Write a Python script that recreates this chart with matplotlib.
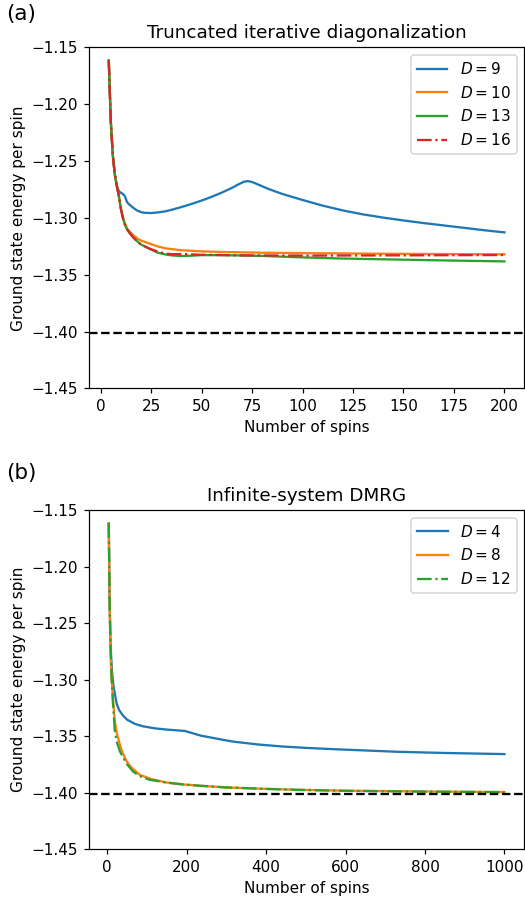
import numpy as np
import matplotlib.pyplot as plt

E_EXACT = -1.401484

# (a) truncated iterative diagonalization
n_d9 = [4, 5, 6, 7, 8, 9, 10, 11, 12, 13, 14, 16, 18, 20, 22, 25, 28, 32, 36, 40,
        45, 50, 55, 60, 65, 68, 71, 73, 75, 78, 83, 90, 100, 110, 120, 130, 140,
        150, 160, 170, 180, 190, 200]
e_d9 = [-1.1617, -1.215, -1.245, -1.262, -1.272, -1.2765, -1.278, -1.279, -1.281,
        -1.286, -1.288, -1.291, -1.2935, -1.295, -1.2956, -1.2958, -1.2953, -1.2943,
        -1.2925, -1.2905, -1.2878, -1.2848, -1.2815, -1.2778, -1.2737, -1.2708,
        -1.2682, -1.2677, -1.2685, -1.2707, -1.2745, -1.279, -1.2843, -1.2893,
        -1.2935, -1.297, -1.2998, -1.3023, -1.3046, -1.3067, -1.3088, -1.3109,
        -1.3128]

n_d10 = [4, 5, 6, 7, 8, 9, 10, 11, 12, 13, 14, 16, 18, 20, 24, 28, 32, 40, 50, 60,
         80, 100, 120, 150, 200]
e_d10 = [-1.1617, -1.215, -1.245, -1.262, -1.272, -1.281, -1.292, -1.300, -1.305,
         -1.309, -1.3115, -1.315, -1.318, -1.320, -1.3225, -1.325, -1.3268, -1.3285,
         -1.3295, -1.330, -1.3307, -1.331, -1.3313, -1.3317, -1.3321]

n_d13 = [4, 5, 6, 7, 8, 9, 10, 11, 12, 13, 14, 16, 18, 20, 24, 28, 32, 36, 40, 45,
         50, 60, 80, 100, 120, 150, 175, 200]
e_d13 = [-1.1617, -1.215, -1.245, -1.262, -1.272, -1.281, -1.292, -1.300, -1.306,
         -1.310, -1.3125, -1.317, -1.3205, -1.3235, -1.327, -1.3305, -1.3322, -1.3332,
         -1.3336, -1.3333, -1.3328, -1.3328, -1.3335, -1.3348, -1.3358, -1.3368,
         -1.3376, -1.3383]

n_d16 = [4, 5, 6, 7, 8, 9, 10, 11, 12, 13, 14, 16, 18, 20, 24, 28, 32, 36, 40, 50,
         70, 100, 150, 200]
e_d16 = [-1.1617, -1.215, -1.245, -1.262, -1.272, -1.281, -1.292, -1.300, -1.306,
         -1.310, -1.3125, -1.317, -1.3205, -1.3235, -1.327, -1.3295, -1.3315, -1.332,
         -1.3318, -1.3325, -1.333, -1.3332, -1.333, -1.3327]

# (b) infinite-system DMRG
n_d4 = [4, 6, 8, 10, 12, 14, 16, 20, 24, 30, 40, 50, 70, 90, 120, 150, 180, 195,
        210, 235, 283, 316, 380, 442, 500, 567, 650, 735, 850, 1000]
e_d4 = [-1.1617, -1.2284, -1.262, -1.280, -1.292, -1.300, -1.306, -1.314, -1.3215,
        -1.327, -1.332, -1.3355, -1.3393, -1.3414, -1.3432, -1.3443, -1.3451,
        -1.3455, -1.347, -1.3496, -1.3528, -1.3549, -1.3575, -1.3593, -1.3605,
        -1.3616, -1.3628, -1.364, -1.365, -1.366]

n_d8 = [4, 6, 8, 10, 12, 14, 16, 19, 24, 32, 40, 49, 60, 82, 110, 149, 190, 233,
        300, 400, 484, 600, 800, 1000]
e_d8 = [-1.1617, -1.2284, -1.2656, -1.2895, -1.303, -1.314, -1.323, -1.3365, -1.347,
        -1.3578, -1.366, -1.3725, -1.3775, -1.3843, -1.388, -1.3911, -1.3928, -1.394,
        -1.3955, -1.3968, -1.3976, -1.3984, -1.3991, -1.3996]

n_d12 = [4, 6, 8, 10, 12, 14, 16, 19, 24, 32, 40, 50, 65, 82, 107, 150, 190, 233,
         300, 400, 484, 600, 800, 1000]
e_d12 = [-1.1617, -1.2284, -1.2656, -1.2895, -1.305, -1.318, -1.328, -1.345, -1.355,
         -1.3635, -1.369, -1.375, -1.3814, -1.3855, -1.3887, -1.3913, -1.3928, -1.394,
         -1.3955, -1.3968, -1.3977, -1.3985, -1.3992, -1.3997]

yticks = np.arange(-1.45, -1.149, 0.05)

# drawn at 110 dpi so text and lines come out a bit bigger, like the original
fig = plt.figure(figsize=(525 / 110, 897 / 110), dpi=110)
ax1 = fig.add_axes([0.1695, 0.567, 0.829, 0.3803])
ax2 = fig.add_axes([0.1695, 0.0535, 0.829, 0.3779])

ax1.plot(n_d9, e_d9, label="$D=9$")
ax1.plot(n_d10, e_d10, label="$D=10$")
ax1.plot(n_d13, e_d13, label="$D=13$")
ax1.plot(n_d16, e_d16, "-.", label="$D=16$")
ax1.axhline(E_EXACT, color="k", linestyle="--", linewidth=1.5)
ax1.set_ylim(-1.45, -1.15)
ax1.set_yticks(yticks)
ax1.set_xticks(range(0, 201, 25))
ax1.set_xlabel("Number of spins")
ax1.set_ylabel("Ground state energy per spin")
ax1.set_title("Truncated iterative diagonalization", fontsize=12)
ax1.legend(loc="upper right")

ax2.plot(n_d4, e_d4, label="$D=4$")
ax2.plot(n_d8, e_d8, label="$D=8$")
ax2.plot(n_d12, e_d12, "-.", label="$D=12$")
ax2.axhline(E_EXACT, color="k", linestyle="--", linewidth=1.5)
ax2.set_ylim(-1.45, -1.15)
ax2.set_yticks(yticks)
ax2.set_xticks(range(0, 1001, 200))
ax2.set_xlabel("Number of spins")
ax2.set_ylabel("Ground state energy per spin")
ax2.set_title("Infinite-system DMRG", fontsize=12)
ax2.legend(loc="upper right")

fig.text(0.012, 0.995, "(a)", fontsize=14, va="top")
fig.text(0.012, 0.484, "(b)", fontsize=14, va="top")

fig.savefig("out.png", dpi=110)
plt.close(fig)
